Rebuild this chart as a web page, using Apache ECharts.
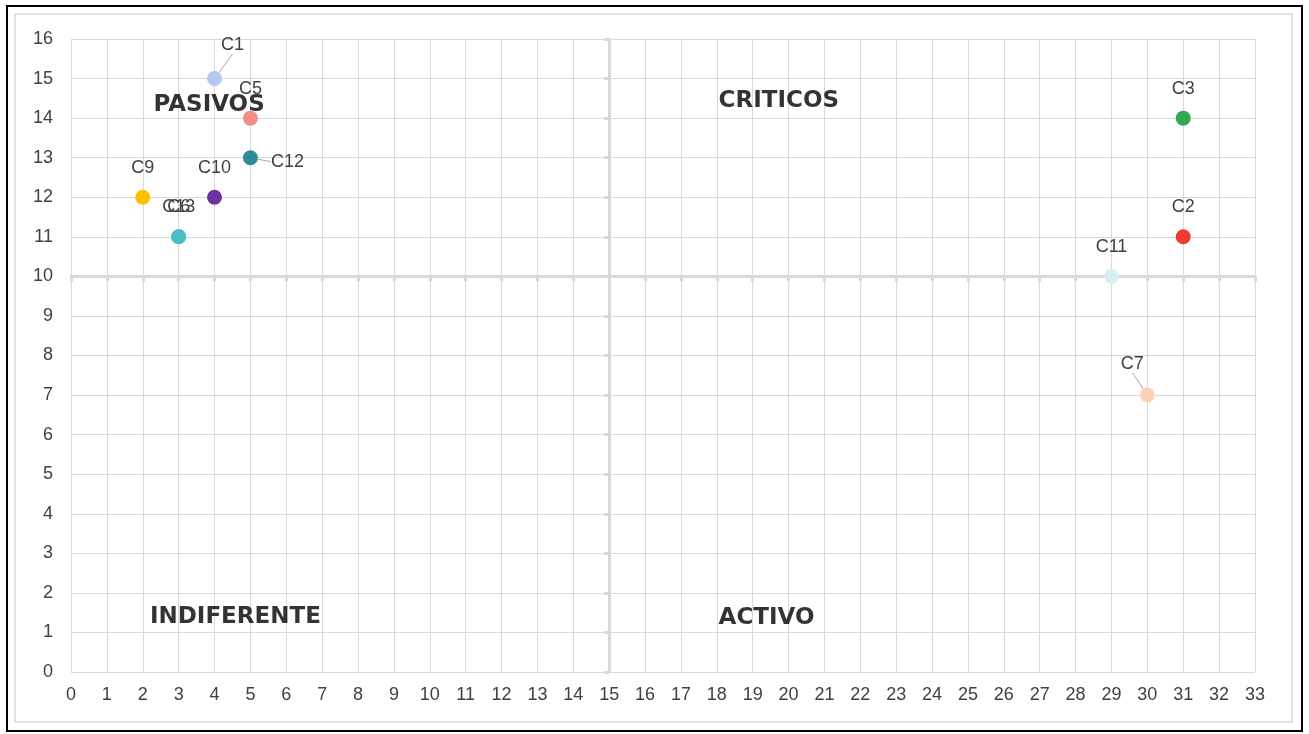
<!DOCTYPE html>
<html>
<head>
<meta charset="utf-8">
<script src="https://cdn.jsdelivr.net/npm/echarts@6/dist/echarts.min.js"></script>
<style>
  html, body { margin: 0; padding: 0; background: #ffffff; }
  #chart { width: 1309px; height: 734px; }
</style>
</head>
<body>
<div id="chart"></div>
<script>
// ---- data ----
const pointNames = ['C1', 'C5', 'C12', 'C9', 'C10', 'C6', 'C13', 'C3', 'C2', 'C11', 'C7'];
const pointX     = [4, 5, 5, 2, 4, 3, 3, 31, 31, 29, 30];
const pointY     = [15, 14, 13, 12, 12, 11, 11, 14, 11, 10, 7];

const quadrantNames = ['PASIVOS', 'CRITICOS', 'INDIFERENTE', 'ACTIVO'];
const quadrantX     = [2.3, 18.05, 2.2, 18.05];
const quadrantY     = [14.33, 14.43, 1.38, 1.37];

const xMin = 0, xMax = 33, yMin = 0, yMax = 16;
const crossX = 15, crossY = 10;

// ---- styles ----
const pointColors = {
  C1: '#b4c9f0', C5: '#f28e86', C12: '#2f8b96', C9: '#ffc000', C10: '#7030a0',
  C6: '#4cbfc6', C13: '#4cbfc6', C3: '#34a853', C2: '#ee3b2b', C11: '#d8eef2', C7: '#fad3b6'
};
const labelStyles = {
  C1:  { position: 'top', distance: 5, dx: 18, dy: -12, line: true },
  C12: { position: 'right', distance: 5, dx: 8, dy: 4, line: true },
  C7:  { position: 'top', distance: 5, dx: -15, dy: -10, line: true }
};
const FONT = '"Liberation Sans", Arial, sans-serif';
const BOLD_FONT = '"DejaVu Sans", "Liberation Sans", Arial, sans-serif';
const GRID_COLOR = '#d9d9d9';

const chart = echarts.init(document.getElementById('chart'), null, { renderer: 'canvas' });

const pointSeries = pointNames.map(function (name, i) {
  const ls = labelStyles[name] || { position: 'top', distance: 13, dx: 0, dy: 0, line: false };
  return {
    name: name,
    type: 'scatter',
    xAxisIndex: 0,
    yAxisIndex: 0,
    symbolSize: 15,
    z: 5,
    itemStyle: { color: pointColors[name], opacity: 1 },
    emphasis: { disabled: true },
    label: {
      show: true,
      formatter: name,
      position: ls.position,
      distance: ls.distance,
      color: '#404040',
      fontSize: 18,
      fontFamily: FONT
    },
    labelLayout: { dx: ls.dx, dy: ls.dy },
    labelLine: { show: ls.line, lineStyle: { color: '#a6a6a6', width: 1 } },
    data: [[pointX[i], pointY[i]]]
  };
});

const quadrantSeries = {
  name: 'quadrants',
  type: 'scatter',
  xAxisIndex: 0,
  yAxisIndex: 0,
  symbolSize: 0,
  z: 4,
  silent: true,
  label: {
    show: true,
    position: 'right',
    distance: 0,
    formatter: function (p) { return quadrantNames[p.dataIndex]; },
    color: '#000000',
    fontSize: 23,
    fontWeight: 'bold',
    fontFamily: BOLD_FONT
  },
  data: quadrantX.map(function (x, i) { return [x, quadrantY[i]]; })
};

const option = {
  backgroundColor: '#ffffff',
  animation: false,
  graphic: [
    { type: 'rect', shape: { x: 7, y: 6, width: 1295, height: 725 }, style: { fill: 'none', stroke: '#000000', lineWidth: 2 }, z: 0, silent: true },
    { type: 'rect', shape: { x: 15, y: 14, width: 1277, height: 708 }, style: { fill: 'none', stroke: GRID_COLOR, lineWidth: 1.5 }, z: 0, silent: true }
  ],
  grid: { left: 71, right: 54, top: 39, bottom: 62, containLabel: false, outerBoundsMode: 'none' },
  xAxis: [
    {
      type: 'value', position: 'bottom', min: xMin, max: xMax, interval: 1,
      axisLine: { show: false, onZero: false },
      axisTick: { show: false },
      splitLine: { show: true, lineStyle: { color: GRID_COLOR, width: 1 } },
      axisLabel: { color: '#404040', fontSize: 18, fontFamily: FONT, margin: 14 }
    },
    {
      type: 'value', position: 'bottom', min: xMin - crossX, max: xMax - crossX, interval: 1,
      axisLine: { show: true, onZero: true, onZeroAxisIndex: 1, lineStyle: { color: GRID_COLOR, width: 3 } },
      axisTick: { show: true, length: 5, lineStyle: { color: GRID_COLOR, width: 3 } },
      splitLine: { show: false },
      axisLabel: { show: false }
    }
  ],
  yAxis: [
    {
      type: 'value', position: 'left', min: yMin, max: yMax, interval: 1,
      axisLine: { show: false, onZero: false },
      axisTick: { show: false },
      splitLine: { show: true, lineStyle: { color: GRID_COLOR, width: 1 } },
      axisLabel: { color: '#404040', fontSize: 18, fontFamily: FONT, margin: 18 }
    },
    {
      type: 'value', position: 'left', min: yMin - crossY, max: yMax - crossY, interval: 1,
      axisLine: { show: true, onZero: true, onZeroAxisIndex: 1, lineStyle: { color: GRID_COLOR, width: 3 } },
      axisTick: { show: true, length: 5, lineStyle: { color: GRID_COLOR, width: 3 } },
      splitLine: { show: false },
      axisLabel: { show: false }
    }
  ],
  series: [quadrantSeries].concat(pointSeries)
};

chart.setOption(option);
</script>
</body>
</html>
